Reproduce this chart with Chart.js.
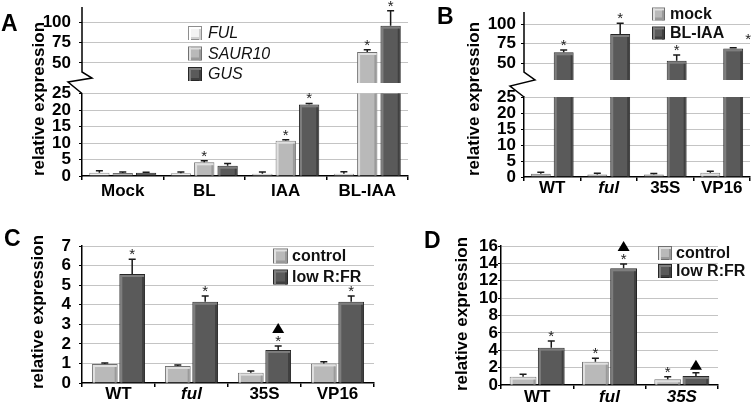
<!DOCTYPE html>
<html>
<head>
<meta charset="utf-8">
<script src="https://cdn.jsdelivr.net/npm/chart.js@4.4.0/dist/chart.umd.min.js"></script>
<style>
  html, body { margin: 0; padding: 0; background: #fff; }
  #fig { position: relative; width: 755px; height: 407px; overflow: hidden; font-family: 'Liberation Sans', Arial, sans-serif; }
  canvas { position: absolute; }
  .letter { position: absolute; font-weight: bold; font-size: 23px; line-height: 1; color: #000; }
  .ytitle { position: absolute; font-weight: bold; font-size: 17px; line-height: 1; color: #000; white-space: nowrap; transform: translate(-50%, -50%) rotate(-90deg); }
</style>
</head>
<body>
<div id="fig">
  <canvas id="aLow" width="420" height="205" style="left:0;top:0"></canvas>
  <canvas id="aUp" width="420" height="205" style="left:0;top:0"></canvas>
  <canvas id="bLow" width="335" height="205" style="left:420px;top:0"></canvas>
  <canvas id="bUp" width="335" height="205" style="left:420px;top:0"></canvas>
  <canvas id="cChart" width="420" height="202" style="left:0;top:205px"></canvas>
  <canvas id="dChart" width="335" height="202" style="left:420px;top:205px"></canvas>

  <div class="letter" style="left:1px;top:12px">A</div>
  <div class="letter" style="left:437px;top:5px">B</div>
  <div class="letter" style="left:4px;top:227px">C</div>
  <div class="letter" style="left:424px;top:229px">D</div>
  <div class="ytitle" style="left:38px;top:99px">relative expression</div>
  <div class="ytitle" style="left:473px;top:99px">relative expression</div>
  <div class="ytitle" style="left:37px;top:312px">relative expression</div>
  <div class="ytitle" style="left:461px;top:314px">relative expression</div>
</div>

<script>
// ---- panel A: FUL / SAUR10 / GUS after hormone treatment
const catsA = ["Mock", "BL", "IAA", "BL-IAA"];
const fulA = [1.0, 0.8, 0.7, 0.7];
const fulErrA = [0.6, 0.4, 0.5, 0.6];
const saurA = [0.9, 4.15, 10.7, 63.4];
const saurErrA = [0.3, 0.45, 0.3, 2.8];
const gusA = [1.0, 3.1, 21.7, 95.5];
const gusErrA = [0.15, 0.7, 0.3, 18.3];
const saurStarsA = [0, 1, 1, 1];
const gusStarsA = [0, 0, 1, 1];

// ---- panel B: mock vs BL-IAA
const catsB = ["WT", "ful", "35S", "VP16"];
const mockB = [1.0, 0.8, 0.8, 1.35];
const mockErrB = [0.45, 0.35, 0.3, 0.45];
const bliaaB = [64, 87.3, 53.3, 69];
const bliaaErrB = [3, 13.6, 7.2, 0.8];
const bliaaStarsB = [1, 1, 1, 1];

// ---- panel C: control vs low R:FR
const catsC = ["WT", "ful", "35S", "VP16"];
const controlC = [0.97, 0.87, 0.53, 1.0];
const controlErrC = [0.05, 0.05, 0.08, 0.09];
const lowC = [5.57, 4.15, 1.69, 4.15];
const lowErrC = [0.75, 0.29, 0.2, 0.29];
const lowStarsC = [1, 1, 1, 1];
const lowTrisC = [0, 0, 1, 0];

// ---- panel D: control vs low R:FR
const catsD = ["WT", "ful", "35S"];
const controlD = [0.96, 2.68, 0.65];
const controlErrD = [0.27, 0.39, 0.31];
const controlStarsD = [0, 1, 1];
const lowD = [4.3, 13.43, 1.04];
const lowErrD = [0.76, 0.49, 0.38];
const lowStarsD = [1, 1, 0];
const lowTrisD = [0, 1, 1];

// tick labels
const ticksUpper = [50, 75, 100];
const ticksLowAB = [0, 5, 10, 15, 20, 25];
const ticksC = [0, 1, 2, 3, 4, 5, 6, 7];
const ticksD = [0, 2, 4, 6, 8, 10, 12, 14, 16];

const FONT = "'Liberation Sans', Arial, sans-serif";
Chart.defaults.font.family = FONT;
Chart.defaults.color = "#000";

const WHITE = { face: "#f3f3f3", edge: "#8e8e8e", hi: "#ffffff", lo: "#d0d0d0" };
const LIGHT = { face: "#b9b9b9", edge: "#707070", hi: "#e0e0e0", lo: "#9a9a9a" };
const DARK = { face: "#5a5a5a", edge: "#262626", hi: "#7e7e7e", lo: "#404040" };

function bevel(ctx, l, t, r, b, col) {
  const w = r - l, h = b - t;
  if (w < 5 || h < 3) return;
  ctx.fillStyle = col.hi;
  ctx.fillRect(l + 1, t + 1, 2, h - 1);
  ctx.fillRect(l + 1, t + 1, w - 2, 2);
  ctx.fillStyle = col.lo;
  ctx.fillRect(r - 3, t + 3, 2, h - 3);
}

// bevels, error bars, asterisks and triangles
function makeMarks(nudge) {
  return {
    id: "marks",
    afterDatasetsDraw(chart) {
      const { ctx, chartArea: a } = chart;
      const ys = chart.scales.y;
      chart.data.datasets.forEach((d, i) => {
        chart.getDatasetMeta(i).data.forEach((bar, j) => {
          const p = bar.getProps(["x", "y", "base", "width"], true);
          ctx.save();
          ctx.beginPath();
          ctx.rect(a.left, a.top, a.right - a.left, a.bottom - a.top);
          ctx.clip();
          bevel(ctx, p.x - p.width / 2, Math.min(p.y, p.base), p.x + p.width / 2, Math.max(p.y, p.base), d.col);
          ctx.restore();

          const v = d.data[j];
          if (v < ys.min || v > ys.max) return;
          const yv = ys.getPixelForValue(v);
          const yt = ys.getPixelForValue(v + d.errors[j]);
          ctx.save();
          ctx.strokeStyle = "#1a1a1a";
          ctx.lineWidth = 1.5;
          ctx.beginPath();
          ctx.moveTo(p.x, yv);
          ctx.lineTo(p.x, yt);
          ctx.moveTo(p.x - 3.5, yt);
          ctx.lineTo(p.x + 3.5, yt);
          ctx.stroke();

          let sx = p.x, sy = yt;
          if (nudge && nudge.ds === i && nudge.idx === j) { sx += nudge.dx; sy += nudge.dy; }
          const star = d.stars && d.stars[j];
          if (star) {
            ctx.fillStyle = "#222";
            ctx.font = "15px " + FONT;
            ctx.textAlign = "center";
            ctx.textBaseline = "alphabetic";
            ctx.fillText("*", sx, sy);
          }
          if (d.tris && d.tris[j]) {
            const cy = yt - (star ? 18 : 8);
            ctx.fillStyle = "#000";
            ctx.beginPath();
            ctx.moveTo(p.x, cy - 5);
            ctx.lineTo(p.x + 6, cy + 5);
            ctx.lineTo(p.x - 6, cy + 5);
            ctx.closePath();
            ctx.fill();
          }
          ctx.restore();
        });
      });
    }
  };
}

function makeLegend(cfg) {
  return {
    id: "boxLegend",
    afterDraw(chart) {
      const ctx = chart.ctx;
      ctx.save();
      chart.data.datasets.forEach((d, i) => {
        const cy = cfg.y + i * cfg.gap;
        const s = cfg.size, x = cfg.x, t = cy - s / 2;
        ctx.fillStyle = d.col.edge;
        ctx.fillRect(x, t, s, s);
        ctx.fillStyle = d.col.face;
        ctx.fillRect(x + 1, t + 1, s - 2, s - 2);
        bevel(ctx, x, t, x + s, t + s, d.col);
        ctx.fillStyle = d.col.lo;
        ctx.fillRect(x + 3, t + s - 3, s - 4, 2);
        ctx.fillStyle = "#111";
        ctx.font = cfg.font + " 16px " + FONT;
        ctx.textAlign = "left";
        ctx.textBaseline = "middle";
        ctx.fillText(d.label, x + s + cfg.tx, cy + 1);
      });
      ctx.restore();
    }
  };
}

// upper half of a broken axis: axis line plus zig-zag down to the lower half
function makeBreak(pts) {
  return {
    id: "axisBreak",
    afterDraw(chart) {
      const { ctx, chartArea: a } = chart;
      ctx.save();
      ctx.strokeStyle = "#000";
      ctx.lineWidth = 1.5;
      ctx.beginPath();
      ctx.moveTo(a.left, a.top);
      pts.forEach(([dx, dy]) => ctx.lineTo(a.left + dx, a.bottom + dy));
      ctx.stroke();
      ctx.restore();
    }
  };
}

function panel(id, o) {
  const italic = o.italic || [];
  const extra = [makeMarks(o.nudge)];
  if (o.legend) extra.push(makeLegend(o.legend));
  if (o.brk) extra.push(makeBreak(o.brk));
  return new Chart(document.getElementById(id), {
    type: "bar",
    data: {
      labels: o.cats,
      datasets: o.sets.map(s => ({
        label: s.label, data: s.data, errors: s.errors, stars: s.stars, tris: s.tris, col: s.col,
        backgroundColor: s.col.face, borderColor: s.col.edge, borderWidth: 1,
        categoryPercentage: o.catPct, barPercentage: o.barPct
      }))
    },
    options: {
      responsive: false,
      animation: false,
      events: [],
      layout: { padding: o.pad },
      plugins: { legend: { display: false }, tooltip: { enabled: false } },
      scales: {
        x: {
          display: o.showX,
          offset: true,
          grid: { offset: true, drawOnChartArea: false, drawTicks: true, tickLength: 4, color: "#000", lineWidth: 1.5 },
          border: { display: true, color: "#000", width: 1.5 },
          ticks: {
            autoSkip: false, maxRotation: 0, padding: o.xPad, color: "#000",
            font: c => ({ size: 17, weight: "bold", lineHeight: 1, style: italic.includes(o.cats[c.index]) ? "italic" : "normal" })
          },
          afterFit(s) { s.height = o.xH || 0; s.paddingLeft = 0; s.paddingRight = 0; }
        },
        y: {
          min: o.min, max: o.max,
          afterBuildTicks(s) { s.ticks = o.ticks.map(v => ({ value: v })); },
          ticks: { autoSkip: false, padding: o.yPad, color: "#000", font: { size: 17, weight: "bold", lineHeight: 1 } },
          grid: {
            color: c => (c.tick && c.tick.value === 0 ? "rgba(0,0,0,0)" : "#c4c4c4"),
            tickColor: "#000", tickLength: 3, lineWidth: 1
          },
          border: { display: !o.brk, color: "#000", width: 1.5 },
          afterFit(s) { s.width = 40; s.paddingTop = 0; s.paddingBottom = 0; }
        }
      }
    },
    plugins: extra
  });
}

const setsA = [
  { label: "FUL", data: fulA, errors: fulErrA, col: WHITE },
  { label: "SAUR10", data: saurA, errors: saurErrA, stars: saurStarsA, col: LIGHT },
  { label: "GUS", data: gusA, errors: gusErrA, stars: gusStarsA, col: DARK }
];
const setsB = [
  { label: "mock", data: mockB, errors: mockErrB, col: LIGHT },
  { label: "BL-IAA", data: bliaaB, errors: bliaaErrB, stars: bliaaStarsB, col: DARK }
];
const setsC = [
  { label: "control", data: controlC, errors: controlErrC, col: LIGHT },
  { label: "low R:FR", data: lowC, errors: lowErrC, stars: lowStarsC, tris: lowTrisC, col: DARK }
];
const setsD = [
  { label: "control", data: controlD, errors: controlErrD, stars: controlStarsD, col: LIGHT },
  { label: "low R:FR", data: lowD, errors: lowErrD, stars: lowStarsD, tris: lowTrisD, col: DARK }
];

// A
panel("aLow", { cats: catsA, sets: setsA, min: 0, max: 25, ticks: ticksLowAB, showX: true,
  pad: { left: 42, right: 12, top: 93.5, bottom: 0 }, xH: 29, xPad: 3, yPad: 8, catPct: 0.86, barPct: 0.87 });
panel("aUp", { cats: catsA, sets: setsA, min: 25.6, max: 118.3, ticks: ticksUpper, showX: false,
  pad: { left: 42, right: 12, top: 7, bottom: 122 }, yPad: 8, catPct: 0.86, barPct: 0.87,
  brk: [[0, -11], [10, -5], [-14, -1], [0, 10.5]],
  legend: { x: 188, y: 33, gap: 20.5, size: 14, tx: 6, font: "italic" } });

// B
panel("bLow", { cats: catsB, italic: ["ful"], sets: setsB, min: 0, max: 25, ticks: ticksLowAB, showX: true,
  pad: { left: 64, right: 5, top: 97, bottom: 0 }, xH: 28, xPad: -1, yPad: 5, catPct: 0.81, barPct: 0.87 });
panel("bUp", { cats: catsB, sets: setsB, min: 28.8, max: 115.3, ticks: ticksUpper, showX: false,
  pad: { left: 64, right: 5, top: 12, bottom: 125 }, yPad: 5, catPct: 0.81, barPct: 0.87,
  brk: [[0, -8], [11, 0], [-14, 6], [0, 17]],
  nudge: { ds: 1, idx: 3, dx: 15, dy: -4 },
  legend: { x: 232, y: 14, gap: 19, size: 13, tx: 5, font: "bold" } });

// C
panel("cChart", { cats: catsC, italic: ["ful"], sets: setsC, min: 0, max: 7, ticks: ticksC, showX: true,
  pad: { left: 42, right: 46, top: 41, bottom: 0 }, xH: 24, xPad: -1, yPad: 8, catPct: 0.75, barPct: 0.94,
  legend: { x: 273, y: 51, gap: 21, size: 15, tx: 4, font: "bold" } });

// D
panel("dChart", { cats: catsD, italic: ["ful", "35S"], sets: setsD, min: 0, max: 16, ticks: ticksD, showX: true,
  pad: { left: 41, right: 37, top: 41, bottom: 0 }, xH: 22, xPad: 0, yPad: 0, catPct: 0.78, barPct: 0.95,
  legend: { x: 238, y: 48, gap: 18, size: 14, tx: 4, font: "bold" } });
</script>
</body>
</html>
